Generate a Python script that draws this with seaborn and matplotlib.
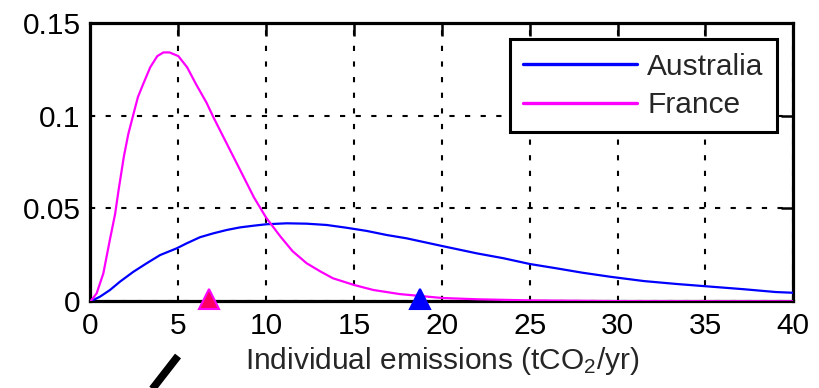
import numpy as np
import pandas as pd
import matplotlib
matplotlib.use("Agg")
import matplotlib.pyplot as plt
from matplotlib.lines import Line2D
import seaborn as sns

# ---- data ----
x_australia = [0, 0.16, 0.54, 1.11, 1.68, 2.44, 3.2, 3.96, 4.9, 5.47, 6.23, 6.99, 7.75, 8.51,
               9.27, 10.03, 11.17, 12.3, 13.44, 14.58, 15.72, 16.86, 18.0, 20.0, 22.0, 23.5,
               25.0, 26.5, 28.0, 29.6, 31.5, 33.4, 35.3, 37.2, 39.0, 40.0]
y_australia = [0, 0.0007, 0.0025, 0.0061, 0.0106, 0.0159, 0.0205, 0.0249, 0.0285, 0.0312,
               0.0345, 0.0366, 0.0384, 0.0398, 0.0407, 0.0415, 0.0420, 0.0418, 0.0411, 0.0396,
               0.0379, 0.0357, 0.0339, 0.0298, 0.0258, 0.0232, 0.0201, 0.0178, 0.0154, 0.0132,
               0.0109, 0.0093, 0.0079, 0.0065, 0.0050, 0.0046]

x_france = [0, 0.35, 0.73, 1.1, 1.4, 1.6, 1.9, 2.15, 2.45, 2.7, 3.0, 3.4, 3.8, 4.15, 4.5,
            5.0, 5.5, 6.0, 6.6, 7.0, 7.75, 8.5, 9.3, 10.0, 10.8, 11.5, 12.3, 13.1, 13.8,
            15.0, 16.1, 17.6, 20, 22, 25, 30, 40]
y_france = [0, 0.0043, 0.015, 0.033, 0.047, 0.060, 0.078, 0.090, 0.101, 0.110, 0.117, 0.126,
            0.132, 0.134, 0.134, 0.132, 0.126, 0.117, 0.107, 0.099, 0.085, 0.071, 0.056,
            0.045, 0.035, 0.027, 0.0205, 0.016, 0.0124, 0.0088, 0.0061, 0.0039, 0.0018,
            0.0011, 0.0005, 0.0001, 0.0]

countries = ["Australia", "France"]
colors = ["blue", "magenta"]
marker_x = [18.75, 6.75]          # triangle markers on the x axis
marker_faces = ["blue", "#ff0060"]
marker_edges = ["blue", "magenta"]
x_ticks = [0, 5, 10, 15, 20, 25, 30, 35, 40]
y_ticks = [0, 0.05, 0.1, 0.15]
y_tick_labels = ["0", "0.05", "0.1", "0.15"]
x_label = "Individual emissions (tCO$_2$/yr)"

# ---- build table ----
df = pd.concat([
    pd.DataFrame({"x": x_australia, "y": y_australia, "country": countries[0]}),
    pd.DataFrame({"x": x_france, "y": y_france, "country": countries[1]}),
], ignore_index=True)

sns.set_style("white")
plt.rcParams["font.family"] = ["Liberation Sans", "DejaVu Sans"]
plt.rcParams["mathtext.fontset"] = "custom"
plt.rcParams["mathtext.rm"] = "Liberation Sans"
plt.rcParams["mathtext.default"] = "regular"

FS = 21.5
fig = plt.figure(figsize=(8.19, 3.88), dpi=100)
ax = fig.add_axes([0.1105, 0.2234, 0.9686 - 0.1105, 0.9415 - 0.2234])

sns.lineplot(data=df, x="x", y="y", hue="country", hue_order=countries,
             palette=dict(zip(countries, colors)), estimator=None, sort=False,
             linewidth=1.6, ax=ax, zorder=3)

for mx, mf, me in zip(marker_x, marker_faces, marker_edges):
    ax.plot([mx], [0.0015], marker="^", markersize=15, mfc=mf, mec=me, mew=1.5,
            clip_on=False, zorder=5, linestyle="none")

ax.set_xlim(0, 40)
ax.set_ylim(0, 0.15)
ax.set_xticks(x_ticks)
ax.set_xticklabels([str(t) for t in x_ticks])
ax.set_yticks(y_ticks)
ax.set_yticklabels(y_tick_labels)
ax.set_xlabel(x_label, fontsize=FS, labelpad=3)
ax.set_ylabel("")

ax.grid(True, color="black", linestyle=(0, (2.5, 5)), linewidth=1.5)
ax.set_axisbelow(True)
for s in ax.spines.values():
    s.set_visible(True)
    s.set_color("black")
    s.set_linewidth(2.3)
ax.tick_params(direction="in", length=9, width=1.8, top=True, right=True,
               labelsize=FS, colors="black")
ax.tick_params(axis="x", pad=8)
ax.tick_params(axis="y", pad=7)

leg = ax.legend(loc="upper right", fontsize=FS, frameon=True, fancybox=False,
                framealpha=1, handlelength=3.8, handletextpad=0.35, labelspacing=0.35,
                borderpad=0.45, borderaxespad=0.55)
leg.set_zorder(10)
leg.get_frame().set_edgecolor("black")
leg.get_frame().set_linewidth(2.2)
for h in leg.get_lines():
    h.set_linewidth(2.4)

# fragment of neighbouring figure (black slash at bottom left)
fig.add_artist(Line2D([150 / 819, 178 / 819], [1 - 392 / 388, 1 - 356 / 388],
                      transform=fig.transFigure, color="black", linewidth=5.5,
                      solid_capstyle="butt"))

fig.savefig("out.png", dpi=100)
